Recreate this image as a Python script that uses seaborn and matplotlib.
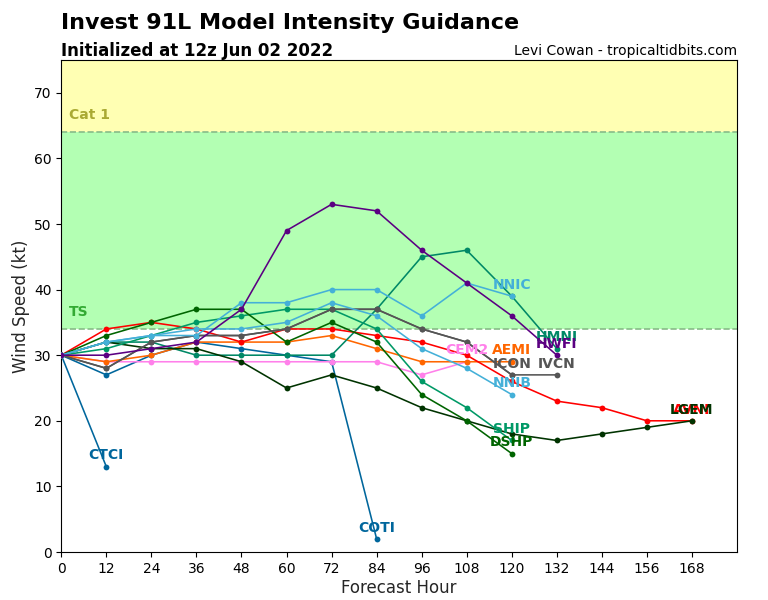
import matplotlib
matplotlib.use("Agg")
import matplotlib.pyplot as plt
import numpy as np
import pandas as pd
import seaborn as sns

sns.set_style("ticks")
plt.rcParams['font.family'] = ['DejaVu Sans']

HOURS = [0, 12, 24, 36, 48, 60, 72, 84, 96, 108, 120, 132, 144, 156, 168]
XTICKS = HOURS
YTICKS = [0, 10, 20, 30, 40, 50, 60, 70]

AVNI = [30, 34, 35, 34, 32, 34, 34, 33, 32, 30, 26, 23, 22, 20, 20]
LGEM = [30, 32, 31, 31, 29, 25, 27, 25, 22, 20, 18, 17, 18, 19, 20]
DSHP = [30, 33, 35, 37, 37, 32, 35, 32, 24, 20, 15]
SHIP = [30, 31, 33, 35, 36, 37, 37, 34, 26, 22, 17]
HMNI = [30, 32, 32, 30, 30, 30, 30, 37, 45, 46, 39, 31]
HWFI = [30, 30, 31, 32, 37, 49, 53, 52, 46, 41, 36, 30]
CTCI = [30, 13]
COTI = [30, 27, 30, 32, 31, 30, 29, 2]
CEM2 = [30, 29, 29, 29, 29, 29, 29, 29, 27, 29]
AEMI = [30, 29, 30, 32, 32, 32, 33, 31, 29, 29, 29]
ICON = [30, 28, 32, 33, 33, 34, 37, 37, 34, 32, 27]
IVCN = [30, 28, 32, 33, 33, 34, 37, 37, 34, 32, 27, 27]
NNIC = [30, 32, 33, 33, 38, 38, 40, 40, 36, 41, 39]
NNIB = [30, 32, 33, 34, 34, 35, 38, 36, 31, 28, 24]

series = {
    "CTCI": CTCI, "COTI": COTI, "CEM2": CEM2, "AEMI": AEMI, "HMNI": HMNI, "AVNI": AVNI,
    "LGEM": LGEM, "SHIP": SHIP, "DSHP": DSHP, "ICON": ICON, "IVCN": IVCN, "NNIC": NNIC,
    "NNIB": NNIB, "HWFI": HWFI,
}
colors = {
    "CTCI": "#00669c", "COTI": "#00669c", "CEM2": "#ff80ea", "AEMI": "#ff6600",
    "HMNI": "#008866", "SHIP": "#009966", "AVNI": "#ff0000", "NNIC": "#44b0d8",
    "NNIB": "#44b0d8", "ICON": "#555555", "IVCN": "#555555", "DSHP": "#006400",
    "HWFI": "#5b0082", "LGEM": "#003300",
}

df = pd.DataFrame(
    [(name, HOURS[i], v) for name, vals in series.items() for i, v in enumerate(vals)],
    columns=["model", "hour", "wind"],
)

fig = plt.figure(figsize=(7.68, 6.0), dpi=100)
ax = fig.add_axes([61.3 / 768, 1 - 552 / 600, 675.7 / 768, 492 / 600])
ax.set_xlim(0, 180)
ax.set_ylim(0, 75)

ax.axhspan(34, 64, color="#b3ffb3", lw=0, zorder=0)
ax.axhspan(64, 75, color="#ffffb3", lw=0, zorder=0)
ax.axhline(34, color="#88bb88", ls="--", lw=1.2, zorder=1)
ax.axhline(64, color="#88bb88", ls="--", lw=1.2, zorder=1)
ax.text(2, 65.5, "Cat 1", color="#aaaa33", fontsize=10, fontweight="bold", va="bottom")
ax.text(2, 35.5, "TS", color="#33aa33", fontsize=10, fontweight="bold", va="bottom")

sns.lineplot(data=df, x="hour", y="wind", hue="model", hue_order=list(series), palette=colors,
             estimator=None, sort=False, marker="o", markersize=4.2, markeredgewidth=0,
             linewidth=1.15, legend=False, ax=ax, zorder=3)

for name, vals in series.items():
    ax.text(HOURS[len(vals) - 1], vals[-1] + 0.65, name, color=colors[name], fontsize=10,
            fontweight="bold", ha="center", va="bottom", zorder=5)

ax.set_xticks(XTICKS)
ax.set_yticks(YTICKS)
ax.tick_params(labelsize=10, length=3.5, width=0.8, color="black", labelcolor="black")
ax.set_xlabel("Forecast Hour", fontsize=12, labelpad=2.5)
ax.set_ylabel("Wind Speed (kt)", fontsize=12, labelpad=2.5)
for s in ax.spines.values():
    s.set_visible(True)
    s.set_color("black")
    s.set_linewidth(0.8)

ax.text(0, 1.0, "Initialized at 12z Jun 02 2022", transform=ax.transAxes, fontsize=12,
        fontweight="bold", ha="left", va="bottom", color="black")
ax.text(1, 1.005, "Levi Cowan - tropicaltidbits.com", transform=ax.transAxes, fontsize=10,
        ha="right", va="bottom", color="black")
fig.text(61 / 768, 1 - 29 / 600, "Invest 91L Model Intensity Guidance", fontsize=16,
         fontweight="bold", ha="left", va="baseline", color="black")

fig.savefig("out.png", dpi=100)
